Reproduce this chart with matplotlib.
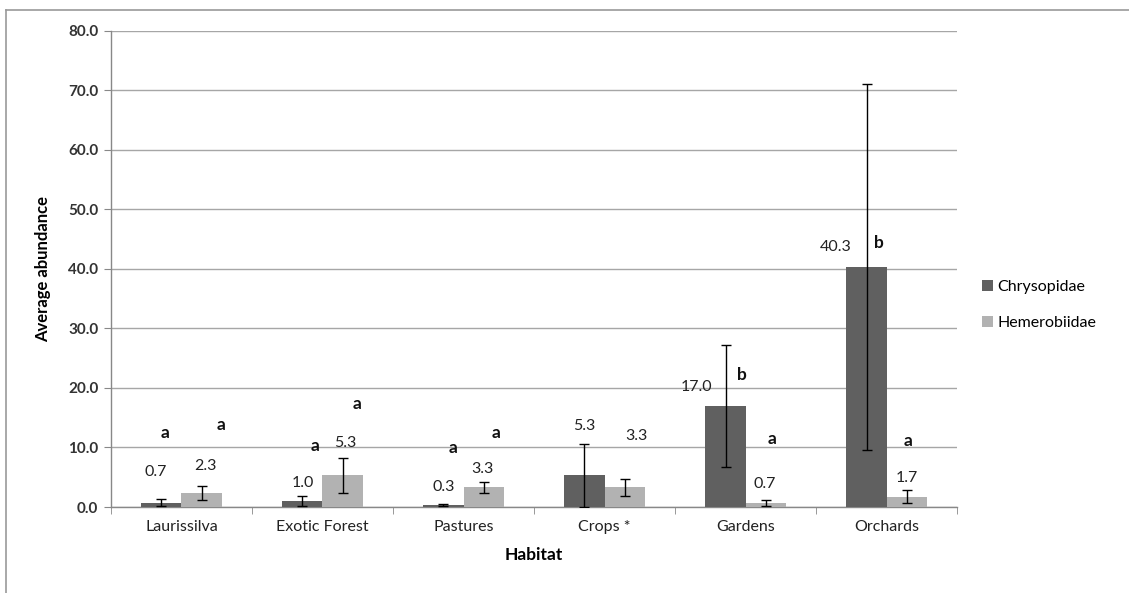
import matplotlib.pyplot as plt
from matplotlib.lines import Line2D
import numpy as np

# data
habitats = ["Laurissilva", "Exotic Forest", "Pastures", "Crops *", "Gardens", "Orchards"]
chrysopidae = [0.7, 1.0, 0.3, 5.3, 17.0, 40.3]
hemerobiidae = [2.3, 5.3, 3.3, 3.3, 0.7, 1.7]
chrys_err = [0.6, 0.9, 0.2, 5.3, 10.2, 30.8]
hemero_err = [1.2, 2.9, 0.9, 1.4, 0.5, 1.1]

# value label offsets (pixels from bar top), placed by hand like in the original
chrys_lab_off = [(-6, 31), (0, 18), (0, 18), (0, 49), (-29, 19), (-31, 20)]
hemero_lab_off = [(4, 27), (3, 32), (-1, 18), (12, 51), (-1, 19), (0, 19)]

# significance letters (x in category units, y in data units)
letters = ["a", "a", "a", "a", "a", "a", "b", "a", "b", "a"]
letter_x = [-0.117, 0.278, 0.947, 1.243, 1.924, 2.231, 3.977, 4.190, 4.947, 5.150]
letter_y = [12.4, 13.8, 10.3, 17.3, 9.9, 12.4, 22.1, 11.4, 44.3, 11.1]

plt.rcParams['font.family'] = ['Lato', 'DejaVu Sans']

fig = plt.figure(figsize=(11.29, 5.93), dpi=100)
ax = fig.add_axes([0.0983, 0.145, 0.7494, 0.8032])

x = np.arange(len(habitats))
w = 0.284
dark = "#606060"
light = "#b2b2b2"

ax.bar(x - w / 2, chrysopidae, w, color=dark, label="Chrysopidae", zorder=3)
ax.bar(x + w / 2, hemerobiidae, w, color=light, label="Hemerobiidae", zorder=3)
ax.errorbar(x - w / 2, chrysopidae, yerr=chrys_err, fmt="none", ecolor="black",
            elinewidth=1, capsize=3.6, capthick=1, zorder=4)
ax.errorbar(x + w / 2, hemerobiidae, yerr=hemero_err, fmt="none", ecolor="black",
            elinewidth=1, capsize=3.6, capthick=1, zorder=4)

for i in range(len(habitats)):
    ax.annotate(f"{chrysopidae[i]:.1f}", (x[i] - w / 2, chrysopidae[i]),
                xytext=chrys_lab_off[i], textcoords="offset pixels",
                ha="center", va="center", fontsize=11.5, color="#222222")
    ax.annotate(f"{hemerobiidae[i]:.1f}", (x[i] + w / 2, hemerobiidae[i]),
                xytext=hemero_lab_off[i], textcoords="offset pixels",
                ha="center", va="center", fontsize=11.5, color="#222222")

for t, lx, ly in zip(letters, letter_x, letter_y):
    ax.text(lx, ly, t, ha="center", va="center", fontsize=12.5, fontweight="bold",
            color="#111111")

ax.set_xlim(-0.5, len(habitats) - 0.5)
ax.set_ylim(0, 80)
ax.set_yticks(np.arange(0, 81, 10))
ax.set_yticklabels([f"{v:.1f}" for v in np.arange(0, 81, 10)],
                   fontweight="bold", fontsize=11, color="#333333")
ax.set_xticks(x)
ax.set_xticklabels(habitats, fontsize=11.5, color="#222222")
ax.set_xticks(np.arange(-0.5, len(habitats)), minor=True)
ax.tick_params(axis="x", which="major", length=0, pad=9)
ax.tick_params(axis="x", which="minor", length=5, color="#888888", direction="out")
ax.tick_params(axis="y", length=5, color="#888888", direction="out", pad=4)

ax.grid(axis="y", color="#a6a6a6", linewidth=1, zorder=0)
for s in ["top", "right"]:
    ax.spines[s].set_visible(False)
for s in ["left", "bottom"]:
    ax.spines[s].set_color("#888888")
    ax.spines[s].set_linewidth(1)

ax.set_xlabel("Habitat", fontweight="bold", fontsize=12.5, labelpad=10)
ax.set_ylabel("Average abundance", fontweight="bold", fontsize=12)
ax.yaxis.set_label_coords(-0.071, 0.5)

ax.legend(loc="center left", bbox_to_anchor=(1.012, 0.424), frameon=False,
          fontsize=11.5, handlelength=0.7, handleheight=0.7, handletextpad=0.3,
          labelspacing=1.4)

# outer chart border (only top and left edges visible in the reference)
fig.add_artist(Line2D([6 / 1129, 1], [1 - 10 / 593, 1 - 10 / 593],
                      transform=fig.transFigure, color="#999999", linewidth=1.2))
fig.add_artist(Line2D([6 / 1129, 6 / 1129], [0, 1 - 10 / 593],
                      transform=fig.transFigure, color="#999999", linewidth=1.2))

fig.savefig("out.png", dpi=100)
